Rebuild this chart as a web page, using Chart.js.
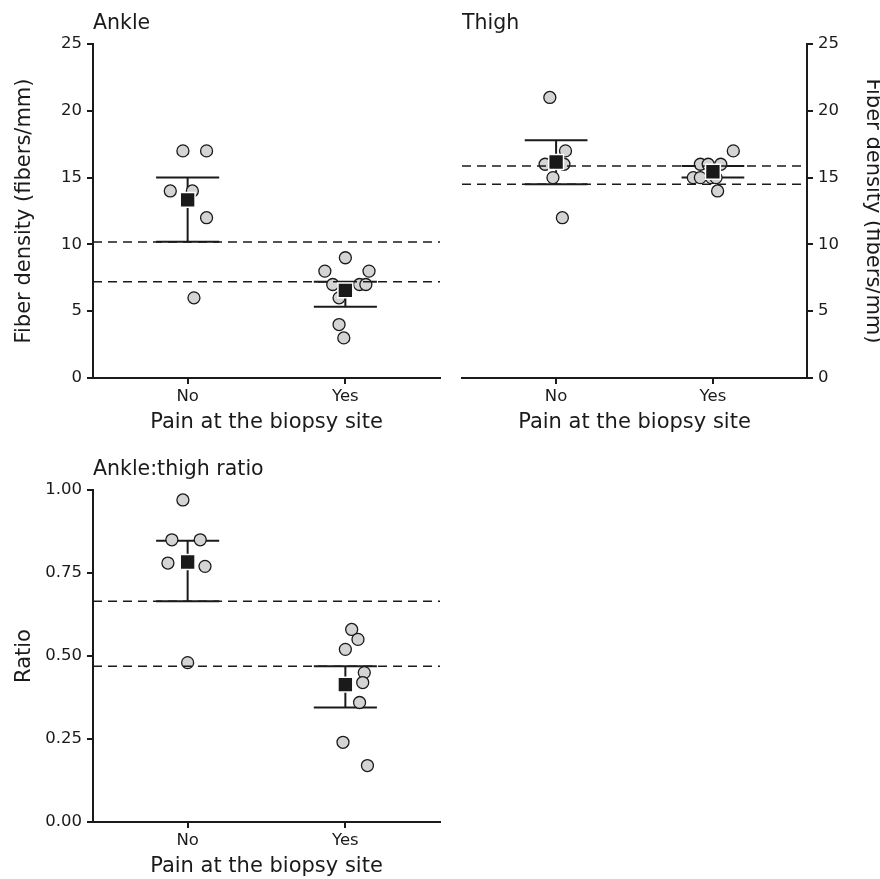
<!DOCTYPE html>
<html lang="en">
<head>
<meta charset="UTF-8">
<title>Fiber density by pain at the biopsy site</title>
<style>
  body { margin: 0; background: #fff; }
  .wrap { position: relative; width: 880px; height: 879px; }
  canvas { position: absolute; }
</style>
</head>
<body>
<div class="wrap">
  <canvas id="ankle" width="452" height="440" style="left:0;top:0;width:452px;height:440px"></canvas>
  <canvas id="thigh" width="430" height="440" style="left:450px;top:0;width:430px;height:440px"></canvas>
  <canvas id="ratio" width="452" height="439" style="left:0;top:440px;width:452px;height:439px"></canvas>
</div>
<script src="https://cdn.jsdelivr.net/npm/chart.js"></script>
<script>
// categories
const groups = ["No", "Yes"];

// ankle fiber density (fibers/mm)
const ankleNo = [17, 17, 14, 14, 12, 6];
const ankleNoJitter = [-0.03, 0.12, -0.11, 0.03, 0.12, 0.04];
const ankleYes = [9, 8, 8, 7, 7, 7, 6, 4, 3];
const ankleYesJitter = [0, -0.13, 0.15, -0.08, 0.09, 0.13, -0.04, -0.04, -0.01];
const ankleMean = [13.33, 6.56];
const ankleLow = [10.2, 5.33];
const ankleHigh = [15.0, 7.2];
const ankleRef = [10.18, 7.2];

// thigh fiber density (fibers/mm)
const thighNo = [21, 17, 16, 16, 15, 12];
const thighNoJitter = [-0.04, 0.06, -0.07, 0.05, -0.02, 0.04];
const thighYes = [17, 16, 16, 16, 15, 15, 15, 15, 14];
const thighYesJitter = [0.13, -0.08, -0.03, 0.05, -0.125, -0.08, -0.01, 0.02, 0.03];
const thighMean = [16.17, 15.44];
const thighLow = [14.5, 15.0];
const thighHigh = [17.8, 15.87];
const thighRef = [15.87, 14.5];

// ankle:thigh ratio
const ratioNo = [0.97, 0.85, 0.85, 0.78, 0.77, 0.48];
const ratioNoJitter = [-0.03, -0.1, 0.08, -0.125, 0.11, 0];
const ratioYes = [0.58, 0.55, 0.52, 0.45, 0.42, 0.41, 0.36, 0.24, 0.17];
const ratioYesJitter = [0.04, 0.08, 0, 0.12, 0.11, 0, 0.09, -0.015, 0.14];
const ratioMean = [0.783, 0.414];
const ratioLow = [0.665, 0.345];
const ratioHigh = [0.847, 0.469];
const ratioRef = [0.665, 0.469];

// tick labels
const densityTicks = [0, 5, 10, 15, 20, 25];
const ratioTicks = [0, 0.25, 0.5, 0.75, 1];

const FONT = '"DejaVu Sans", Verdana, sans-serif';
const INK = '#1a1a1a';
const X_MIN = 0.4, X_MAX = 2.6, CAP = 0.2;

const panelTitle = {
  id: 'panelTitle',
  afterDraw(chart, args, opts) {
    const { ctx, chartArea } = chart;
    ctx.save();
    ctx.font = '20.5px ' + FONT;
    ctx.fillStyle = INK;
    ctx.textBaseline = 'alphabetic';
    ctx.textAlign = 'left';
    ctx.fillText(opts.text, chartArea.left, chartArea.top - 15);
    ctx.restore();
  }
};

function seg(x1, y1, x2, y2, dash, width, order) {
  return {
    data: [{ x: x1, y: y1 }, { x: x2, y: y2 }],
    showLine: true, borderColor: INK, borderWidth: width,
    borderDash: dash, pointRadius: 0, pointHoverRadius: 0, order: order
  };
}

function buildChart(id, o) {
  const datasets = [];
  o.ref.forEach(v => datasets.push(seg(X_MIN, v, X_MAX, v, [9, 6], 1.5, 1)));
  o.low.forEach((lo, i) => {
    const c = i + 1, hi = o.high[i];
    datasets.push(seg(c, lo, c, hi, [], 2, 3));
    datasets.push(seg(c - CAP, hi, c + CAP, hi, [], 2, 3));
    datasets.push(seg(c - CAP, lo, c + CAP, lo, [], 2, 3));
  });
  o.vals.forEach((vals, g) => datasets.push({
    data: vals.map((v, i) => ({ x: g + 1 + o.jit[g][i], y: v })),
    pointRadius: 6, pointHoverRadius: 6,
    pointBackgroundColor: '#d4d4d4', pointBorderColor: INK, pointBorderWidth: 1.3,
    order: 2
  }));
  datasets.push({
    data: o.mean.map((m, i) => ({ x: i + 1, y: m })),
    pointStyle: 'rect', pointRadius: 10.5, pointHoverRadius: 10.5,
    pointBackgroundColor: INK, pointBorderColor: '#fff', pointBorderWidth: 1.5,
    order: 0
  });

  const yTicks = o.yTicks;
  new Chart(document.getElementById(id), {
    type: 'scatter',
    data: { datasets: datasets },
    plugins: [panelTitle],
    options: {
      responsive: false,
      animation: false,
      layout: { padding: o.padding },
      plugins: {
        legend: { display: false },
        tooltip: { enabled: false },
        panelTitle: { text: o.title }
      },
      scales: {
        x: {
          type: 'linear', min: X_MIN, max: X_MAX,
          afterBuildTicks: s => { s.ticks = groups.map((g, i) => ({ value: i + 1 })); },
          afterFit: s => { s.height = 57; },
          ticks: {
            callback: v => groups[Math.round(v) - 1] || '',
            font: { family: FONT, size: 16.5 }, color: INK, padding: 3,
            autoSkip: false, maxRotation: 0
          },
          grid: { drawOnChartArea: false, drawTicks: true, tickLength: 6, color: INK, lineWidth: 2 },
          border: { display: true, color: INK, width: 2 },
          title: {
            display: true, text: 'Pain at the biopsy site', color: INK,
            font: { family: FONT, size: 21 }, padding: { top: 0, bottom: 0 }
          }
        },
        y: {
          type: 'linear', position: o.yPos,
          min: yTicks[0], max: yTicks[yTicks.length - 1],
          afterBuildTicks: s => { s.ticks = yTicks.map(v => ({ value: v })); },
          afterFit: s => { s.width = o.yWidth; },
          ticks: {
            callback: o.fmt, font: { family: FONT, size: 16.5 }, color: INK, padding: 5
          },
          grid: { drawOnChartArea: false, drawTicks: true, tickLength: 6, color: INK, lineWidth: 2 },
          border: { display: true, color: INK, width: 2 },
          title: {
            display: true, text: o.yTitle, color: INK,
            font: { family: FONT, size: 21, lineHeight: o.yPos === 'right' ? 0.75 : 1.2 },
            padding: { top: o.yPos === 'right' ? 0 : 12, bottom: 0 }
          }
        }
      }
    }
  });
}

buildChart('ankle', {
  title: 'Ankle', vals: [ankleNo, ankleYes], jit: [ankleNoJitter, ankleYesJitter],
  mean: ankleMean, low: ankleLow, high: ankleHigh, ref: ankleRef,
  yTicks: densityTicks, fmt: v => String(v), yPos: 'left', yWidth: 93,
  yTitle: 'Fiber density (fibers/mm)',
  padding: { top: 44, right: 12, bottom: 5, left: 0 }
});

buildChart('thigh', {
  title: 'Thigh', vals: [thighNo, thighYes], jit: [thighNoJitter, thighYesJitter],
  mean: thighMean, low: thighLow, high: thighHigh, ref: thighRef,
  yTicks: densityTicks, fmt: v => String(v), yPos: 'right', yWidth: 73,
  yTitle: 'Fiber density (fibers/mm)',
  padding: { top: 44, right: 0, bottom: 5, left: 12 }
});

buildChart('ratio', {
  title: 'Ankle:thigh ratio', vals: [ratioNo, ratioYes], jit: [ratioNoJitter, ratioYesJitter],
  mean: ratioMean, low: ratioLow, high: ratioHigh, ref: ratioRef,
  yTicks: ratioTicks, fmt: v => Number(v).toFixed(2), yPos: 'left', yWidth: 93,
  yTitle: 'Ratio',
  padding: { top: 50, right: 12, bottom: 0, left: 0 }
});
</script>
</body>
</html>
